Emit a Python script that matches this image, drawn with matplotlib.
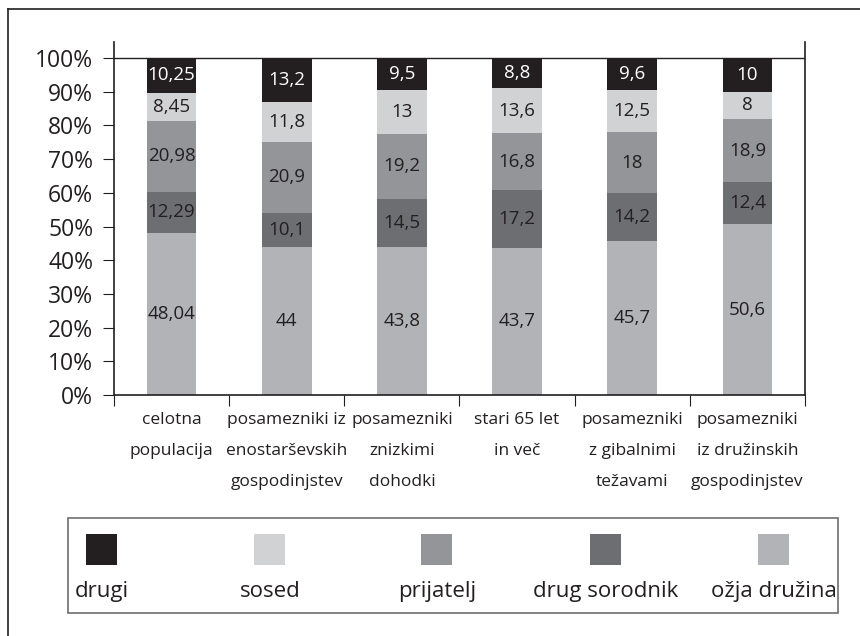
import matplotlib.pyplot as plt
import numpy as np
from matplotlib.patches import Rectangle
from matplotlib.lines import Line2D

plt.rcParams['font.family'] = ['Open Sans', 'DejaVu Sans']

#data, bottom to top
categories = ['celotna\npopulacija', 'posamezniki iz\nenostarševskih\ngospodinjstev',
              'posamezniki\nznizkimi\ndohodki', 'stari 65 let\nin več',
              'posamezniki\nz gibalnimi\ntežavami', 'posamezniki\niz družinskih\ngospodinjstev']
ozja_druzina = [48.04, 44, 43.8, 43.7, 45.7, 50.6]
drug_sorodnik = [12.29, 10.1, 14.5, 17.2, 14.2, 12.4]
prijatelj = [20.98, 20.9, 19.2, 16.8, 18, 18.9]
sosed = [8.45, 11.8, 13, 13.6, 12.5, 8]
drugi = [10.25, 13.2, 9.5, 8.8, 9.6, 10]
value_labels = [
    ['48,04', '44', '43,8', '43,7', '45,7', '50,6'],
    ['12,29', '10,1', '14,5', '17,2', '14,2', '12,4'],
    ['20,98', '20,9', '19,2', '16,8', '18', '18,9'],
    ['8,45', '11,8', '13', '13,6', '12,5', '8'],
    ['10,25', '13,2', '9,5', '8,8', '9,6', '10'],
]
series_names = ['ožja družina', 'drug sorodnik', 'prijatelj', 'sosed', 'drugi']

colors = ['#b1b3b6', '#6d6e71', '#939598', '#d1d2d4', '#231f20']
text_colors = ['#231f20', '#231f20', '#231f20', '#231f20', 'white']

series = np.array([ozja_druzina, drug_sorodnik, prijatelj, sosed, drugi], dtype=float)
pct = series / series.sum(axis=0) * 100

fig = plt.figure(figsize=(8.6, 6.36), dpi=100)
ax = fig.add_axes([114/860, 1-395/636, (805-114)/860, (395-42)/636])

x = np.arange(len(categories))
bottom = np.zeros(len(categories))
for i in range(len(series)):
    ax.bar(x, pct[i], 0.43, bottom=bottom, color=colors[i], linewidth=0)
    for j in range(len(categories)):
        ax.text(x[j], bottom[j] + pct[i][j]/2, value_labels[i][j], ha='center', va='center',
                fontsize=13.5, color=text_colors[i])
    bottom += pct[i]

ax.axhline(100, color='#231f20', linewidth=1, zorder=0)
ax.set_xlim(-0.5, len(categories)-0.5)
ax.set_ylim(0, 100*(395-42)/(395-58))
ax.set_yticks(range(0, 101, 10))
ax.set_yticklabels(['{}%'.format(v) for v in range(0, 101, 10)], fontsize=16.5, color='#231f20')
ax.set_xticks(np.arange(-0.5, len(categories)))
ax.set_xticklabels([])
ax.set_xticks(x, minor=True)
ax.set_xticklabels(categories, minor=True, fontsize=12.5, color='#231f20', linespacing=2.25)
ax.tick_params(axis='x', which='minor', length=0, pad=12)
ax.tick_params(axis='x', which='major', length=8, direction='out', color='#231f20')
ax.tick_params(axis='y', length=8, direction='out', color='#231f20', pad=7)
ax.spines['top'].set_visible(False)
for s in ['left', 'right', 'bottom']:
    ax.spines[s].set_color('#231f20')
    ax.spines[s].set_linewidth(1.2)

#legend drawn by hand
W, H = 860, 636
fig.add_artist(Rectangle((68/W, 1-613/H), (838-68)/W, (613-518)/H, transform=fig.transFigure,
                         fill=False, edgecolor='#6d6e71', linewidth=1.2))
leg_x = [102, 270, 437, 606, 774]
order = [4, 3, 2, 1, 0]
for k, i in enumerate(order):
    fig.add_artist(Rectangle(((leg_x[k]-16)/W, 1-565/H), 31/W, 31/H, transform=fig.transFigure,
                             facecolor=colors[i], edgecolor='none'))
    fig.text(leg_x[k]/W, 1-597/H, series_names[i], ha='center', va='baseline', fontsize=16,
             color='#231f20')

#outer frame
fig.add_artist(Line2D([8/W, 8/W], [0, 1-9/H], transform=fig.transFigure, color='#231f20', linewidth=1.2))
fig.add_artist(Line2D([8/W, 1], [1-9/H, 1-9/H], transform=fig.transFigure, color='#231f20', linewidth=1.2))

fig.savefig('out.png', dpi=100)
